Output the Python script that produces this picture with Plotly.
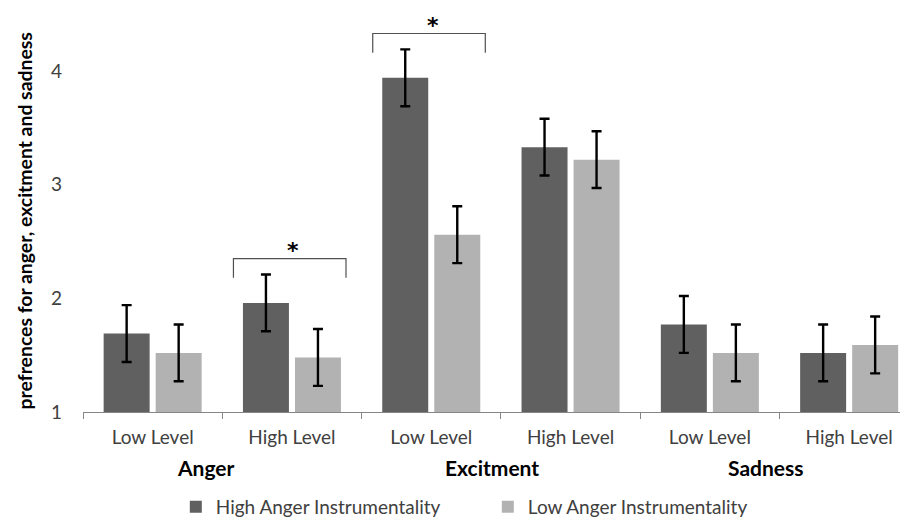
import plotly.graph_objects as go

groups = ["Anger", "Excitment", "Sadness"]
levels = ["Low Level", "High Level", "Low Level", "High Level", "Low Level", "High Level"]
series_names = ["High Anger Instrumentality", "Low Anger Instrumentality"]
high_vals = [1.69, 1.96, 3.94, 3.33, 1.77, 1.52]
low_vals = [1.52, 1.48, 2.56, 3.22, 1.52, 1.59]
high_err = [0.25, 0.25, 0.25, 0.25, 0.25, 0.25]
low_err = [0.25, 0.25, 0.25, 0.25, 0.25, 0.25]
sig_categories = [1, 2]
y_ticks = [1, 2, 3, 4]

DARK = "#606060"
LIGHT = "#b2b2b2"
TXT = "#404040"
FONT = "Lato"

x = list(range(len(levels)))
fig = go.Figure()
fig.add_trace(go.Bar(x=x, y=[v - 1 for v in high_vals], base=1, name=series_names[0],
                     marker=dict(color=DARK, line=dict(width=0)),
                     error_y=dict(type="data", array=high_err, color="black", thickness=2.4, width=5)))
fig.add_trace(go.Bar(x=x, y=[v - 1 for v in low_vals], base=1, name=series_names[1],
                     marker=dict(color=LIGHT, line=dict(width=0)),
                     error_y=dict(type="data", array=low_err, color="black", thickness=2.4, width=5)))

# significance brackets
for c in sig_categories:
    top = max(high_vals[c] + high_err[c], low_vals[c] + low_err[c])
    y_top = top + 0.14
    y_bot = top - 0.03
    x0, x1 = c - 0.42, c + 0.388
    fig.add_shape(type="path", xref="x", yref="y",
                  path=f"M {x0},{y_bot} L {x0},{y_top} L {x1},{y_top} L {x1},{y_bot}",
                  line=dict(color="#505050", width=1.2))
    fig.add_annotation(x=c + 0.01, y=y_top + 0.2, yanchor="top", text="<b>*</b>", showarrow=False,
                       font=dict(family="DejaVu Sans", size=22, color="black"), xref="x", yref="y")

# group labels (centred under each pair of categories)
group_shift = [-0.115, -0.062, -0.1]
for i, g in enumerate(groups):
    fig.add_annotation(x=2 * i + 0.5 + group_shift[i], y=-0.137, xref="x", yref="paper",
                       xanchor="center", yanchor="middle", text=f"<b>{g}</b>", showarrow=False,
                       font=dict(family=FONT, size=21, color="black"))

fig.add_annotation(x=-0.0715, y=0.474, xref="paper", yref="paper", xanchor="center", yanchor="middle",
                   text="<b>prefrences for anger, excitment and sadness</b>", textangle=-90,
                   showarrow=False, font=dict(family=FONT, size=19.4, color="black"))

# page body has an 8px margin, so the figure is 8px smaller and offsets shifted accordingly
fig.update_layout(
    width=900, height=509,
    margin=dict(l=75, r=0, t=2, b=105, autoexpand=False),
    paper_bgcolor="white", plot_bgcolor="white",
    barmode="group", bargap=0.253, bargroupgap=0.116,
    showlegend=True,
    legend=dict(orientation="h", x=0.1125, xanchor="left", y=-0.236, yanchor="middle",
                font=dict(family=FONT, size=19, color=TXT), entrywidth=267, itemwidth=30),
    xaxis=dict(range=[-0.5, -0.5 + 825 / 139.3], tickmode="array", tickvals=x, ticktext=levels,
               ticks="", showgrid=False, zeroline=False, showline=True, linecolor="#868686", linewidth=1.3,
               tickfont=dict(family=FONT, size=19, color=TXT), ticklabelstandoff=8,
               minor=dict(tickmode="array", tickvals=[i - 0.5 for i in range(len(levels) + 1)],
                          ticks="outside", ticklen=6, tickcolor="#868686", tickwidth=1.3, showgrid=False)),
    yaxis=dict(range=[1, 1 + 402 / 113.67], tickmode="array", tickvals=y_ticks, ticks="",
               showgrid=False, zeroline=False, showline=False,
               tickfont=dict(family=FONT, size=19, color=TXT), ticklabelstandoff=20),
    font=dict(family=FONT),
)

fig.write_html("out.html")
